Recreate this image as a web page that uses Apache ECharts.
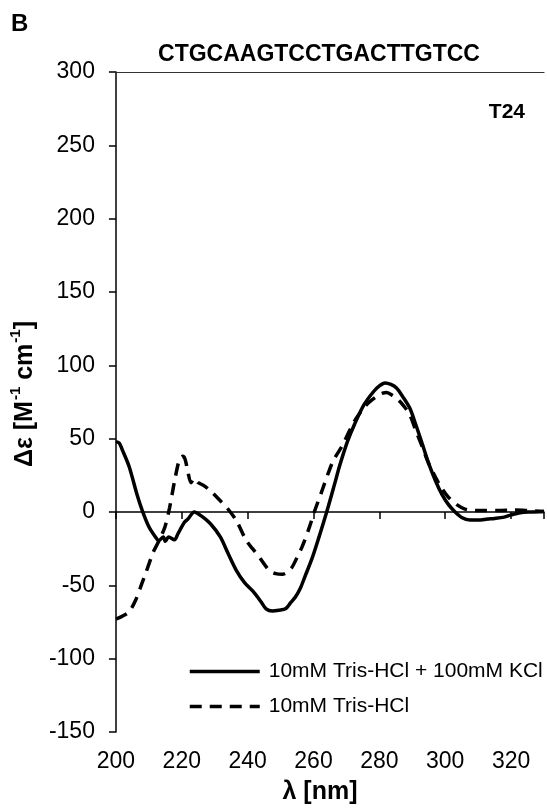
<!DOCTYPE html>
<html>
<head>
<meta charset="utf-8">
<script src="https://cdn.jsdelivr.net/npm/echarts@6/dist/echarts.min.js"></script>
<style>
  html, body { margin: 0; padding: 0; background: #fff; }
  #chart { width: 547px; height: 810px; }
</style>
</head>
<body>
<div id="chart"></div>
<script>
// wavelengths [nm] and Δε values
const kclNm = [200, 201, 202, 204, 206.4, 208, 210, 212, 213, 214.4, 215, 216, 217.8, 218.8, 220.8, 221.8, 223.8, 225.8, 228.7, 231.7, 234, 236.6, 239, 241.6, 244, 245.6, 247.5, 249.5, 251.5, 253, 254.5, 256, 257.4, 259.5, 261.4, 264, 266.4, 268, 270.3, 272.5, 275.3, 278.2, 280, 281.7, 283.5, 285.2, 287, 289.2, 291, 293.1, 295, 297.1, 299, 301, 303, 305, 307.5, 310, 312.9, 315, 317.9, 320, 322.8, 326, 330];
const kclVal = [48, 47, 42, 31, 12, 1, -10, -17, -19.5, -17, -20, -17, -19, -15, -7, -5, 0, -2.5, -8, -17, -28, -40, -48, -54, -61, -66, -67.5, -67, -66, -62, -58, -52, -44, -32, -19, 0, 19, 32, 48, 60, 73, 82, 86, 88, 87, 84.5, 79, 71, 60, 46, 33, 21, 12, 5, 0, -3.7, -5.5, -5.5, -4.8, -4.4, -3.5, -2, -0.5, 0, 0.4];

const trisNm = [200, 202, 204, 206, 208, 209, 211.4, 213, 214.9, 216.3, 217.8, 219.3, 220.3, 221, 221.8, 222.8, 223.8, 225, 226.7, 228.7, 231.7, 233.7, 236.6, 239.6, 241.5, 243.6, 246.6, 248.5, 250.5, 252, 253.5, 255, 256.5, 258.5, 260.4, 262.5, 264.4, 266, 268.4, 271.3, 273, 275.3, 277, 279.3, 281, 282.2, 284, 285.7, 287.5, 289.2, 291, 293.1, 295, 297.1, 299, 301, 303.5, 306, 309, 312, 316, 321, 325, 330];
const trisVal = [-73, -71, -68, -60, -48, -42, -27, -20, -10, 3, 21, 36, 38, 36, 28, 20, 23, 20, 18, 14.4, 7.7, 3, -6, -19.5, -25, -31, -40, -42, -42.5, -41, -37.6, -31, -24, -12, 1, 14, 26, 35, 44, 57, 64, 71, 75, 79, 81, 81.5, 79.5, 76.6, 72, 66.4, 56, 44, 33, 23.5, 16, 10, 5, 2, 1, 1, 1, 1.3, 1, 0.4];

const seriesNames = ['10mM Tris-HCl + 100mM KCl', '10mM Tris-HCl'];
const sequence = 'CTGCAAGTCCTGACTTGTCC';
const panelLabel = 'B';
const sampleLabel = 'T24';

const font = "'Liberation Sans', Arial, sans-serif";
const pairs = (xs, ys) => xs.map((x, i) => [x, ys[i]]);

const chart = echarts.init(document.getElementById('chart'));
chart.setOption({
  backgroundColor: '#fff',
  animation: false,
  textStyle: { fontFamily: font, color: '#000' },
  grid: { left: 110, right: 0, top: 72, bottom: 74, containLabel: false },
  xAxis: [{
    type: 'value',
    min: 200,
    max: 330,
    interval: 20,
    name: 'λ [nm]',
    nameLocation: 'middle',
    nameGap: 48,
    nameTextStyle: { fontFamily: font, fontSize: 25, fontWeight: 'bold', color: '#000', padding: [0, 20, 0, 0] },
    axisLine: { lineStyle: { color: '#000', width: 1.5 } },
    axisTick: { inside: false, length: 7, lineStyle: { color: '#000', width: 1.5 } },
    axisLabel: {
      fontFamily: font, fontSize: 23, color: '#000', margin: 18,
      formatter: v => (v === 330 ? '' : String(v))
    },
    splitLine: { show: false }
  }, {
    type: 'value',
    position: 'top',
    min: 200,
    max: 330,
    axisLine: { show: true, onZero: false, lineStyle: { color: '#333', width: 1.2 } },
    axisTick: { show: false },
    axisLabel: { show: false },
    splitLine: { show: false }
  }],
  yAxis: {
    type: 'value',
    min: -150,
    max: 300,
    interval: 50,
    name: '{b|Δε [M}{s|-1}{b| cm}{s|-1}{b|]}',
    nameLocation: 'middle',
    nameRotate: 90,
    nameGap: 47,
    nameTextStyle: {
      padding: [0, 0, 0, 16],
      rich: {
        b: { fontFamily: font, fontSize: 25, fontWeight: 'bold', color: '#000', lineHeight: 30, verticalAlign: 'bottom' },
        s: { fontFamily: font, fontSize: 15, fontWeight: 'bold', color: '#000', lineHeight: 30, verticalAlign: 'top', padding: [0, 0, 0, 1] }
      }
    },
    axisLine: { show: true, onZero: false, lineStyle: { color: '#000', width: 1.5 } },
    axisTick: { show: true, length: 7, lineStyle: { color: '#000', width: 1.5 } },
    axisLabel: { fontFamily: font, fontSize: 23, color: '#000', margin: 21 },
    splitLine: { show: false }
  },
  legend: {
    orient: 'vertical',
    left: 188,
    top: 661,
    padding: 0,
    itemWidth: 70,
    itemHeight: 20,
    itemGap: 14,
    itemStyle: { opacity: 0 },
    lineStyle: { width: 3.5 },
    textStyle: { fontFamily: font, fontSize: 21, color: '#000', padding: [0, 0, 0, 4] },
    data: seriesNames
  },
  series: [{
    name: seriesNames[0],
    type: 'line',
    data: pairs(kclNm, kclVal),
    smooth: 0.3,
    symbol: 'none',
    lineStyle: { color: '#000', width: 3.5, type: 'solid' },
    itemStyle: { color: '#000' },
    z: 3
  }, {
    name: seriesNames[1],
    type: 'line',
    data: pairs(trisNm, trisVal),
    smooth: 0.3,
    symbol: 'none',
    lineStyle: { color: '#000', width: 3.5, type: [12, 8], cap: 'butt' },
    itemStyle: { color: '#000' },
    z: 2
  }],
  graphic: [{
    type: 'text',
    left: 11,
    top: 12,
    style: { text: panelLabel, font: "bold 24px 'Liberation Sans', Arial, sans-serif", fill: '#000' }
  }, {
    type: 'text',
    x: 319,
    y: 55,
    style: { text: sequence, font: "bold 23px 'Liberation Sans', Arial, sans-serif", fill: '#000', textAlign: 'center', textVerticalAlign: 'middle' }
  }, {
    type: 'text',
    right: 22,
    top: 102,
    style: { text: sampleLabel, font: "bold 21px 'Liberation Sans', Arial, sans-serif", fill: '#000' }
  }]
});
</script>
</body>
</html>
